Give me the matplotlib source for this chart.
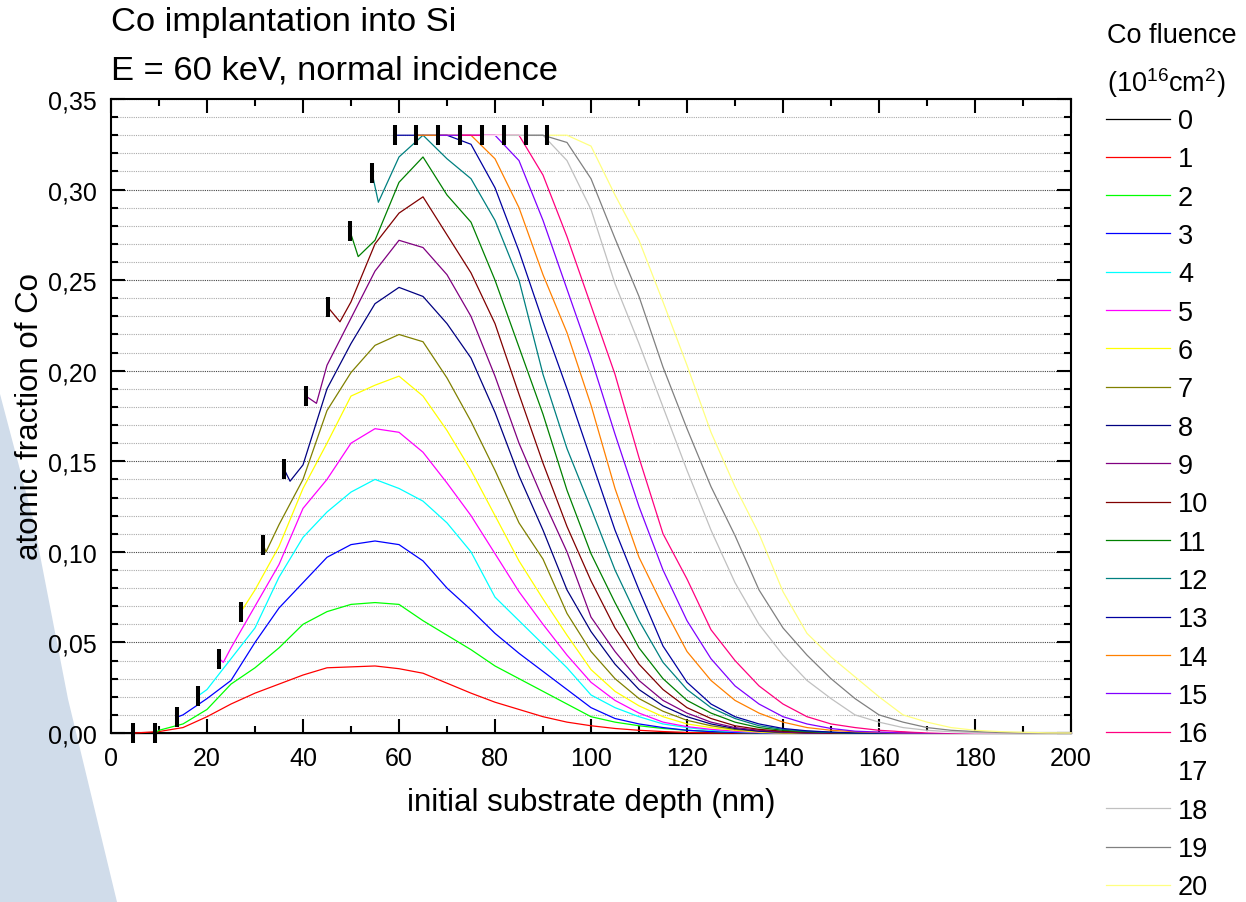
import matplotlib
matplotlib.use('Agg')
import matplotlib.pyplot as plt
from matplotlib.patches import Polygon
from matplotlib.ticker import MultipleLocator, FuncFormatter

plt.rcParams['font.family'] = ['Liberation Sans', 'DejaVu Sans']
plt.rcParams['mathtext.fontset'] = 'custom'
plt.rcParams['mathtext.rm'] = 'Liberation Sans'
plt.rcParams['mathtext.it'] = 'Liberation Sans:italic'

# depth grid (nm) on which the profiles were read
depth = list(range(0, 205, 5))

fluence_labels = [str(i) for i in range(21)]
colors = ['#000000', '#FF0000', '#00FF00', '#0000FF', '#00FFFF', '#FF00FF',
          '#FFFF00', '#808000', '#000080', '#800080', '#800000', '#008000',
          '#008080', '#0000A0', '#FF8000', '#8000FF', '#FF0080', '#FFFFFF',
          '#C0C0C0', '#808080', '#FFFF80']

# receding surface position and Co fraction there (black bars)
surface_depth = [0.0, 4.6, 9.2, 13.7, 18.1, 22.6, 27.1, 31.7, 36.0, 40.6, 45.2,
                 49.8, 54.4, 59.2, 63.5, 68.1, 72.7, 77.3, 81.9, 86.5, 90.8]
surface_frac = [0.0, 0.0, 0.0, 0.0087, 0.0204, 0.041, 0.067, 0.104, 0.146, 0.186,
                0.235, 0.277, 0.309, 0.33, 0.33, 0.33, 0.33, 0.33, 0.33, 0.33, 0.33]

# small dip just below the surface
dip_depth = [None, None, None, None, None, 23.4, None, 32.3, 37.3, 42.8, 47.7,
             51.5, 55.7, None, None, None, None, None, None, None, None]
dip_frac = [None, None, None, None, None, 0.039, None, 0.100, 0.139, 0.182, 0.227,
            0.263, 0.293, None, None, None, None, None, None, None, None]

# atomic fraction of Co on the depth grid (from first grid point below surface)
f0 = [0.0, 0.0, 0.0, 0.0, 0.0, 0.0, 0.0, 0.0, 0.0, 0.0, 0.0, 0.0, 0.0, 0.0,
      0.0, 0.0, 0.0, 0.0, 0.0, 0.0, 0.0, 0.0, 0.0, 0.0, 0.0, 0.0, 0.0, 0.0,
      0.0, 0.0, 0.0, 0.0, 0.0, 0.0, 0.0, 0.0, 0.0, 0.0, 0.0, 0.0, 0.0]
f1 = [0.0, 0.0008, 0.003, 0.009, 0.016, 0.022, 0.027, 0.032, 0.036, 0.0365,
      0.037, 0.0355, 0.033, 0.0275, 0.022, 0.017, 0.013, 0.009, 0.006, 0.004,
      0.0025, 0.0015, 0.0008, 0.0003, 0, 0, 0, 0, 0, 0, 0, 0, 0, 0, 0, 0, 0, 0,
      0, 0]
f2 = [0.0015, 0.005, 0.013, 0.027, 0.036, 0.047, 0.06, 0.067, 0.071, 0.072,
      0.071, 0.062, 0.054, 0.046, 0.037, 0.03, 0.023, 0.016, 0.009, 0.006,
      0.004, 0.0025, 0.0015, 0.0008, 0.0003, 0, 0, 0, 0, 0, 0, 0, 0, 0, 0, 0,
      0, 0, 0]
f3 = [0.010, 0.019, 0.029, 0.05, 0.069, 0.083, 0.097, 0.104, 0.106, 0.104,
      0.095, 0.08, 0.068, 0.055, 0.044, 0.034, 0.024, 0.014, 0.008, 0.005,
      0.003, 0.0015, 0.0008, 0.0003, 0, 0, 0, 0, 0, 0, 0, 0, 0, 0, 0, 0, 0, 0]
f4 = [0.024, 0.041, 0.058, 0.086, 0.108, 0.122, 0.133, 0.14, 0.135, 0.128,
      0.116, 0.1, 0.075, 0.062, 0.049, 0.036, 0.021, 0.014, 0.009, 0.005,
      0.003, 0.0015, 0.0008, 0.0003, 0, 0, 0, 0, 0, 0, 0, 0, 0, 0, 0, 0, 0]
f5 = [0.047, 0.07, 0.093, 0.124, 0.14, 0.16, 0.168, 0.166, 0.155, 0.138, 0.12,
      0.099, 0.078, 0.06, 0.043, 0.028, 0.018, 0.011, 0.006, 0.0035, 0.002,
      0.001, 0.0003, 0, 0, 0, 0, 0, 0, 0, 0, 0, 0, 0, 0, 0]
f6 = [0.079, 0.103, 0.135, 0.16, 0.186, 0.192, 0.197, 0.186, 0.167, 0.145,
      0.12, 0.095, 0.074, 0.054, 0.035, 0.023, 0.015, 0.009, 0.005, 0.003,
      0.0015, 0.0005, 0, 0, 0, 0, 0, 0, 0, 0, 0, 0, 0, 0, 0]
f7 = [0.115, 0.14, 0.178, 0.199, 0.214, 0.22, 0.216, 0.196, 0.172, 0.145,
      0.116, 0.096, 0.066, 0.045, 0.03, 0.019, 0.012, 0.007, 0.004, 0.002,
      0.001, 0, 0, 0, 0, 0, 0, 0, 0, 0, 0, 0, 0, 0]
f8 = [0.148, 0.19, 0.215, 0.237, 0.246, 0.241, 0.226, 0.207, 0.177, 0.142,
      0.112, 0.079, 0.056, 0.038, 0.024, 0.015, 0.009, 0.005, 0.0025, 0.001,
      0.0005, 0, 0, 0, 0, 0, 0, 0, 0, 0, 0, 0, 0]
f9 = [0.203, 0.229, 0.255, 0.272, 0.268, 0.253, 0.23, 0.197, 0.16, 0.129, 0.1,
      0.064, 0.045, 0.029, 0.018, 0.011, 0.006, 0.003, 0.0015, 0.0006, 0, 0,
      0, 0, 0, 0, 0, 0, 0, 0, 0, 0]
f10 = [0.238, 0.27, 0.287, 0.296, 0.275, 0.254, 0.226, 0.187, 0.149, 0.114,
       0.084, 0.058, 0.038, 0.024, 0.014, 0.008, 0.004, 0.002, 0.001, 0.0004,
       0, 0, 0, 0, 0, 0, 0, 0, 0, 0, 0]
f11 = [0.272, 0.304, 0.318, 0.297, 0.282, 0.25, 0.213, 0.176, 0.134, 0.099,
       0.072, 0.047, 0.03, 0.018, 0.011, 0.006, 0.003, 0.0015, 0.0007, 0.0003,
       0, 0, 0, 0, 0, 0, 0, 0, 0, 0]
f12 = [0.318, 0.33, 0.317, 0.306, 0.283, 0.25, 0.198, 0.157, 0.124, 0.09,
       0.062, 0.039, 0.024, 0.014, 0.008, 0.004, 0.002, 0.001, 0.0003, 0, 0,
       0, 0, 0, 0, 0, 0, 0, 0]
f13 = [0.33, 0.33, 0.33, 0.325, 0.301, 0.266, 0.227, 0.19, 0.151, 0.112, 0.079,
       0.048, 0.028, 0.016, 0.009, 0.005, 0.0025, 0.0012, 0.0005, 0, 0, 0, 0,
       0, 0, 0, 0, 0, 0]
f14 = [0.33, 0.33, 0.33, 0.317, 0.29, 0.253, 0.221, 0.181, 0.135, 0.097, 0.07,
       0.045, 0.029, 0.018, 0.011, 0.006, 0.003, 0.0015, 0.0007, 0.0003, 0, 0,
       0, 0, 0, 0, 0, 0]
f15 = [0.33, 0.33, 0.33, 0.316, 0.283, 0.245, 0.207, 0.165, 0.125, 0.09, 0.062,
       0.041, 0.026, 0.016, 0.009, 0.005, 0.0025, 0.001, 0.0005, 0, 0, 0, 0, 0,
       0, 0, 0]
f16 = [0.33, 0.33, 0.33, 0.308, 0.274, 0.236, 0.198, 0.152, 0.11, 0.085, 0.057,
       0.04, 0.026, 0.016, 0.009, 0.005, 0.003, 0.0015, 0.0007, 0.0003, 0, 0,
       0, 0, 0, 0]
f17 = [0.33, 0.33, 0.326, 0.298, 0.258, 0.222, 0.182, 0.142, 0.106, 0.079,
       0.056, 0.038, 0.025, 0.016, 0.01, 0.006, 0.003, 0.0015, 0.0007, 0.0003,
       0, 0, 0, 0, 0]
f18 = [0.33, 0.33, 0.316, 0.289, 0.248, 0.215, 0.18, 0.145, 0.112, 0.083, 0.06,
       0.043, 0.029, 0.019, 0.01, 0.006, 0.003, 0.0015, 0.0007, 0.0003, 0, 0,
       0, 0]
f19 = [0.33, 0.326, 0.306, 0.273, 0.241, 0.202, 0.168, 0.136, 0.109, 0.079,
       0.058, 0.043, 0.03, 0.019, 0.01, 0.006, 0.003, 0.0015, 0.0008, 0.0003,
       0, 0, 0]
f20 = [0.33, 0.324, 0.297, 0.272, 0.238, 0.203, 0.166, 0.136, 0.11, 0.078,
       0.055, 0.042, 0.031, 0.02, 0.01, 0.006, 0.003, 0.0015, 0.0008, 0.0004,
       0.0001, 0]

profiles = [f0, f1, f2, f3, f4, f5, f6, f7, f8, f9, f10, f11, f12, f13, f14,
            f15, f16, f17, f18, f19, f20]

W, H = 1246, 903
fig = plt.figure(figsize=(W / 100, H / 100), dpi=100)

# light blue wedge of the slide background, kept behind everything
wedge = Polygon([(0 / W, 1 - 395 / H), (33 / W, 1 - 520 / H), (68 / W, 1 - 700 / H),
                 (117 / W, 0), (0, 0)], closed=True, transform=fig.transFigure,
                facecolor='#d0dcea', edgecolor='none', zorder=-10)
fig.patches.append(wedge)

ax = fig.add_axes([111 / W, 1 - 734 / H, 960 / W, 634 / H])
ax.set_zorder(1)
ax.set_xlim(0, 200)
ax.set_ylim(0, 0.35)

lines = []
for i, prof in enumerate(profiles):
    start = len(depth) - len(prof)
    xs = [surface_depth[i]]
    ys = [surface_frac[i]]
    if dip_depth[i] is not None:
        xs.append(dip_depth[i])
        ys.append(dip_frac[i])
    xs += depth[start:]
    ys += prof
    ln, = ax.plot(xs, ys, color=colors[i], lw=0.9, zorder=3, clip_on=False,
                  label=fluence_labels[i])
    lines.append(ln)

ax.plot(surface_depth[1:], surface_frac[1:], ls='none', marker='|', ms=14.5,
        mew=2.9, color='black', zorder=5, clip_on=False)

ax.xaxis.set_major_locator(MultipleLocator(20))
ax.xaxis.set_minor_locator(MultipleLocator(10))
ax.yaxis.set_major_locator(MultipleLocator(0.05))
ax.yaxis.set_minor_locator(MultipleLocator(0.01))
ax.yaxis.set_major_formatter(FuncFormatter(lambda v, p: f'{v:.2f}'.replace('.', ',')))
ax.tick_params(which='both', direction='in', top=True, right=True, width=1.5)
ax.tick_params(which='major', length=10, labelsize=18)
ax.tick_params(which='minor', length=5)
ax.tick_params(axis='x', which='major', pad=9)
ax.tick_params(axis='y', which='major', pad=10)
for s in ax.spines.values():
    s.set_linewidth(1.5)

ax.yaxis.grid(True, which='major', linestyle=(0, (1, 1)), color='#444444', lw=0.8)
ax.yaxis.grid(True, which='minor', linestyle=(0, (1, 1)), color='#aaaaaa', lw=0.8)
ax.set_axisbelow(True)

fig.text(111 / W, 1 - 31 / H, 'Co implantation into Si', fontsize=24.8,
         ha='left', va='baseline')
fig.text(111 / W, 1 - 80 / H, 'E = 60 keV, normal incidence', fontsize=24.8,
         ha='left', va='baseline')
fig.text(30 / W, 1 - 417 / H, 'atomic fraction of Co', fontsize=22.5,
         rotation=90, ha='center', va='center')
fig.text(591 / W, 1 - 803 / H, 'initial substrate depth (nm)', fontsize=22.5,
         ha='center', va='center')

fig.text(1107 / W, 1 - 43 / H, 'Co fluence', fontsize=19.5, ha='left', va='baseline')
fig.text(1107 / W, 1 - 92 / H, '(10$^{16}$cm$^{2}$)', fontsize=19.5, ha='left',
         va='baseline')

fig.legend(lines, fluence_labels, loc='upper left',
           bbox_to_anchor=(1106 / W, 1 - 109 / H), frameon=False, fontsize=19.5,
           handlelength=2.36, handletextpad=0.3, labelspacing=0.455,
           borderpad=0, borderaxespad=0)

fig.savefig('out.png', dpi=100)
